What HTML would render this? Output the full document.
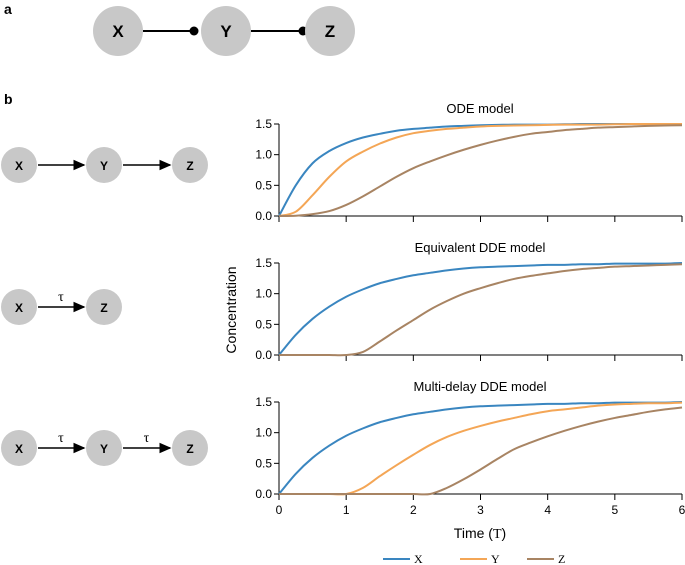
<!DOCTYPE html>
<html><head><meta charset="utf-8"><style>
body{margin:0;background:#fff;}
svg{display:block;font-family:"Liberation Sans",sans-serif;}
</style></head><body>
<svg id="fig" width="685" height="565" viewBox="0 0 685 565">
<defs><marker id="ah" markerWidth="8" markerHeight="8" refX="7" refY="4" orient="auto"><path d="M0,0.5 L8,4 L0,7.5 z" fill="#000"/></marker></defs>
<text x="4" y="14" font-size="14" font-weight="bold">a</text>
<text x="4" y="104" font-size="14" font-weight="bold">b</text>
<g>
<line x1="143" y1="31" x2="194" y2="31" stroke="#000" stroke-width="2"/><circle cx="194" cy="31" r="4.5"/>
<line x1="251" y1="31" x2="303" y2="31" stroke="#000" stroke-width="2"/><circle cx="303" cy="31" r="4.5"/>
<circle cx="118" cy="31" r="25" fill="#c8c8c8"/><text x="118" y="37" font-size="17" font-weight="bold" text-anchor="middle">X</text>
<circle cx="226" cy="31" r="25" fill="#c8c8c8"/><text x="226" y="37" font-size="17" font-weight="bold" text-anchor="middle">Y</text>
<circle cx="330" cy="31" r="25" fill="#c8c8c8"/><text x="330" y="37" font-size="17" font-weight="bold" text-anchor="middle">Z</text>
</g>
<g id="diagrams"></g>
<g id="charts"></g>
<text transform="translate(236,310) rotate(-90)" font-size="14" text-anchor="middle">Concentration</text>
<text x="480" y="538" font-size="14" text-anchor="middle">Time (<tspan font-family="Liberation Serif">T</tspan>)</text>
<g font-family="Liberation Serif" font-size="12">
<g><line x1="383" y1="559" x2="410" y2="559" stroke="#3a86c0" stroke-width="2"/><text x="414" y="563">X</text></g>
<g><line x1="460" y1="559" x2="487" y2="559" stroke="#f4a656" stroke-width="2"/><text x="491" y="563">Y</text></g>
<g><line x1="527" y1="559" x2="554" y2="559" stroke="#a88463" stroke-width="2"/><text x="558" y="563">Z</text></g>
</g>
</svg>
<script>
const times=[0,0.25,0.5,0.75,1,1.25,1.5,1.75,2,2.25,2.5,2.75,3,3.25,3.5,3.75,4,4.25,4.5,4.75,5,5.25,5.5,5.75,6];
const odeX=[0,0.50,0.86,1.06,1.19,1.28,1.34,1.39,1.42,1.44,1.46,1.47,1.48,1.485,1.49,1.49,1.49,1.495,1.5,1.5,1.5,1.5,1.5,1.5,1.5];
const odeY=[0,0.07,0.34,0.64,0.89,1.05,1.18,1.28,1.35,1.39,1.42,1.44,1.46,1.47,1.475,1.48,1.485,1.49,1.49,1.49,1.495,1.5,1.5,1.5,1.5];
const odeZ=[0,0.005,0.03,0.08,0.18,0.32,0.48,0.64,0.78,0.89,0.99,1.08,1.16,1.23,1.29,1.34,1.37,1.40,1.42,1.44,1.45,1.46,1.47,1.475,1.48];
const xVals=[0,0.33,0.59,0.79,0.95,1.07,1.17,1.24,1.30,1.34,1.38,1.41,1.43,1.44,1.45,1.46,1.47,1.47,1.48,1.48,1.49,1.49,1.49,1.49,1.50];
const eqZ=[0,0,0,0,0,0.05,0.22,0.40,0.57,0.74,0.88,1.00,1.09,1.17,1.24,1.29,1.33,1.37,1.40,1.42,1.44,1.45,1.46,1.47,1.48];
const mdY=[0,0,0,0,0,0.10,0.29,0.47,0.64,0.80,0.93,1.03,1.11,1.18,1.24,1.30,1.35,1.38,1.41,1.44,1.46,1.47,1.48,1.48,1.49];
const mdZ=[0,0,0,0,0,0,0,0,0,0,0.10,0.24,0.40,0.57,0.73,0.84,0.94,1.03,1.11,1.18,1.24,1.29,1.34,1.38,1.41];
const yTicks=[0,0.5,1.0,1.5];
const xTicks=[0,1,2,3,4,5,6];
const panels=[
 {title:"ODE model",top:124,series:[["x",odeX,"#3a86c0"],["y",odeY,"#f4a656"],["z",odeZ,"#a88463"]]},
 {title:"Equivalent DDE model",top:263,series:[["x",xVals,"#3a86c0"],["z",eqZ,"#a88463"]]},
 {title:"Multi-delay DDE model",top:402,series:[["x",xVals,"#3a86c0"],["y",mdY,"#f4a656"],["z",mdZ,"#a88463"]]}
];
const NS="http://www.w3.org/2000/svg";
const X0=279,X1=682,H=92;
const sx=t=>X0+(t-0)/6*(X1-X0);
function mk(tag,attrs,parent){const e=document.createElementNS(NS,tag);for(const k in attrs)e.setAttribute(k,attrs[k]);parent.appendChild(e);return e;}
const charts=document.getElementById('charts');
panels.forEach((p,i)=>{
 const sy=v=>p.top+H-v/1.5*H;
 const g=mk('g',{},charts);
 
 
 const t=mk('text',{x:480,y:p.top-11,'font-size':13,'text-anchor':'middle'},g);t.textContent=p.title;
 
 
 mk('line',{x1:X0,y1:p.top,x2:X0,y2:p.top+H,stroke:'#000','stroke-width':1},g);
 mk('line',{x1:X0,y1:p.top+H,x2:X1,y2:p.top+H,stroke:'#000','stroke-width':1},g);
 yTicks.forEach(v=>{mk('line',{x1:X0-5,y1:sy(v),x2:X0,y2:sy(v),stroke:'#000'},g);
  const l=mk('text',{x:X0-7,y:sy(v)+4,'font-size':12,'text-anchor':'end'},g);l.textContent=v.toFixed(1);
  
  });
 xTicks.forEach(v=>{mk('line',{x1:sx(v),y1:p.top+H,x2:sx(v),y2:p.top+H+6,stroke:'#000'},g);
  if(i===2){const l=mk('text',{x:sx(v),y:p.top+H+20,'font-size':12,'text-anchor':'middle'},g);l.textContent=v;
  
  }});
 p.series.forEach(s=>{
  const pts=times.map((tt,k)=>[sx(tt),sy(s[1][k])]);
  let d='M'+pts[0][0]+','+pts[0][1];
  for(let k=0;k<pts.length-1;k++){const p0=pts[Math.max(k-1,0)],p1=pts[k],p2=pts[k+1],p3=pts[Math.min(k+2,pts.length-1)];
   d+=' C'+(p1[0]+(p2[0]-p0[0])/6)+','+(p1[1]+(p2[1]-p0[1])/6)+' '+(p2[0]-(p3[0]-p1[0])/6)+','+(p2[1]-(p3[1]-p1[1])/6)+' '+p2[0]+','+p2[1];}
  const path=mk('path',{d:d,fill:'none',stroke:s[2],'stroke-width':2},g);
  
  
 });
});
const dg=document.getElementById('diagrams');
function node(x,y,lab){const c=mk('circle',{cx:x,cy:y,r:18,fill:'#c8c8c8'},dg);
 
 
 const t=mk('text',{x:x,y:y+5,'font-size':12,'font-weight':'bold','text-anchor':'middle'},dg);t.textContent=lab;}
function arrow(x1,x2,y,tau){mk('line',{x1:x1,y1:y,x2:x2,y2:y,stroke:'#000','stroke-width':1.5,'marker-end':'url(#ah)'},dg);
 if(tau){const t=mk('text',{x:(x1+x2)/2,y:y-6,'font-size':14,'text-anchor':'middle','font-family':'Liberation Serif'},dg);t.textContent='τ';}}
arrow(38,84,165,false);arrow(123,170,165,false);node(19,165,'X');node(104,165,'Y');node(190,165,'Z');
arrow(38,84,307,true);node(19,307,'X');node(104,307,'Z');
arrow(38,84,448,true);arrow(123,170,448,true);node(19,448,'X');node(104,448,'Y');node(190,448,'Z');
</script>
</body></html>
